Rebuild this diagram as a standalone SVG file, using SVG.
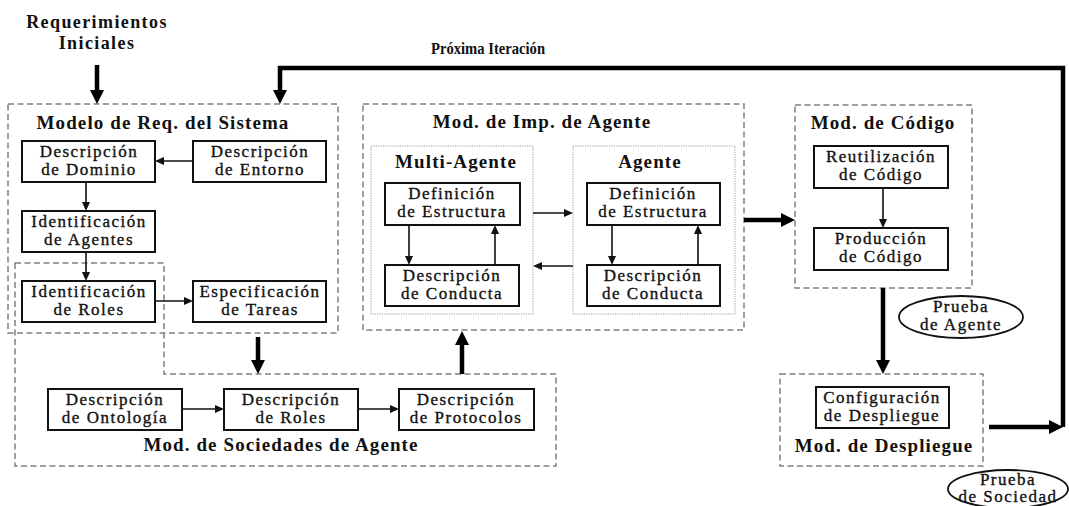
<svg xmlns="http://www.w3.org/2000/svg" width="1069" height="506" viewBox="0 0 1069 506">
  <style>
    .box { fill: #fff; stroke: #111; stroke-width: 2; }
    .group { fill: none; stroke: #808080; stroke-width: 1.5; stroke-dasharray: 6 3.5; }
    .inner { fill: none; stroke: #9a9a9a; stroke-width: 1; stroke-dasharray: 1.2 1.2; }
    .t { font-family: "Liberation Serif", "Times New Roman", serif; font-size: 17px; letter-spacing: 1.5px; text-anchor: middle; fill: #111; stroke: #111; stroke-width: 0.35; }
    .title { font-family: "Liberation Serif", "Times New Roman", serif; font-size: 19px; font-weight: bold; letter-spacing: 1.1px; text-anchor: middle; fill: #111; }
    .head { font-family: "Liberation Serif", "Times New Roman", serif; font-size: 17px; font-weight: bold; text-anchor: middle; fill: #111; }
    .thin { fill: none; stroke: #111; stroke-width: 1.6; marker-end: url(#ah); }
    .thick { fill: none; stroke: #000; stroke-width: 4.5; marker-end: url(#AH); }
    .oval { fill: #fff; stroke: #111; stroke-width: 1.8; }
  </style>
  <defs>
    <marker id="ah" markerUnits="userSpaceOnUse" markerWidth="9" markerHeight="8" refX="4" refY="4" orient="auto">
      <path d="M0,0 L9,4 L0,8 z" fill="#111"/>
    </marker>
    <marker id="AH" markerUnits="userSpaceOnUse" markerWidth="14" markerHeight="14" refX="5" refY="7" orient="auto">
      <path d="M0,0 L14,7 L0,14 z" fill="#000"/>
    </marker>
  </defs>
  <rect width="1069" height="506" fill="#fff"/>

  <!-- free labels -->
  <text class="title" x="97" y="28" style="font-size:18px;letter-spacing:1.4px">Requerimientos</text>
  <text class="title" x="97" y="49" style="font-size:18px;letter-spacing:1.4px">Iniciales</text>
  <text class="head" transform="translate(488,54) scale(0.86,1)">Próxima Iteración</text>

  <!-- model groupings -->
  <g id="modelo-req">
    <rect class="group" x="8" y="104" width="330" height="229"/>
    <text class="title" x="163" y="129">Modelo de Req. del Sistema</text>
  </g>
  <g id="mod-sociedades">
    <path class="group" d="M15,263 H164 V374 H556 V466 H15 Z"/>
    <text class="title" x="281" y="451">Mod. de Sociedades de Agente</text>
  </g>
  <g id="mod-imp">
    <rect class="group" x="363" y="104" width="381" height="226"/>
    <text class="title" x="542" y="128">Mod. de Imp. de Agente</text>
  </g>
  <g id="multi-agente">
    <rect class="inner" x="371" y="146" width="162" height="168"/>
    <text class="title" x="456" y="168">Multi-Agente</text>
  </g>
  <g id="agente">
    <rect class="inner" x="573" y="146" width="162" height="168"/>
    <text class="title" x="650" y="168">Agente</text>
  </g>
  <g id="mod-codigo">
    <rect class="group" x="795" y="105" width="177" height="183"/>
    <text class="title" x="883" y="129">Mod. de Código</text>
  </g>
  <g id="mod-despliegue">
    <rect class="group" x="780" y="374" width="203" height="92"/>
    <text class="title" x="884" y="452">Mod. de Despliegue</text>
  </g>

  <!-- activity boxes -->
  <g id="desc-dominio">
    <rect class="box" x="22" y="141" width="133" height="41"/>
    <text class="t" x="89" y="157">Descripción</text>
    <text class="t" x="89" y="175">de  Dominio</text>
  </g>
  <g id="desc-entorno">
    <rect class="box" x="193" y="141" width="133" height="41"/>
    <text class="t" x="260" y="157">Descripción</text>
    <text class="t" x="260" y="175">de Entorno</text>
  </g>
  <g id="ident-agentes">
    <rect class="box" x="22" y="211" width="133" height="41"/>
    <text class="t" x="89" y="227">Identificación</text>
    <text class="t" x="89" y="245">de Agentes</text>
  </g>
  <g id="ident-roles">
    <rect class="box" x="22" y="281" width="133" height="41"/>
    <text class="t" x="89" y="297">Identificación</text>
    <text class="t" x="89" y="315">de Roles</text>
  </g>
  <g id="espec-tareas">
    <rect class="box" x="193" y="281" width="133" height="41"/>
    <text class="t" x="260" y="297">Especificación</text>
    <text class="t" x="260" y="315">de Tareas</text>
  </g>
  <g id="ma-def-estructura">
    <rect class="box" x="385" y="183" width="135" height="42"/>
    <text class="t" x="452" y="199">Definición</text>
    <text class="t" x="452" y="217">de Estructura</text>
  </g>
  <g id="ma-desc-conducta">
    <rect class="box" x="385" y="265" width="134" height="41"/>
    <text class="t" x="452" y="281">Descripción</text>
    <text class="t" x="452" y="299">de Conducta</text>
  </g>
  <g id="ag-def-estructura">
    <rect class="box" x="587" y="183" width="133" height="42"/>
    <text class="t" x="653" y="199">Definición</text>
    <text class="t" x="653" y="217">de Estructura</text>
  </g>
  <g id="ag-desc-conducta">
    <rect class="box" x="587" y="265" width="133" height="41"/>
    <text class="t" x="653" y="281">Descripción</text>
    <text class="t" x="653" y="299">de Conducta</text>
  </g>
  <g id="reutil-codigo">
    <rect class="box" x="814" y="146" width="134" height="42"/>
    <text class="t" x="881" y="162">Reutilización</text>
    <text class="t" x="881" y="180">de Código</text>
  </g>
  <g id="prod-codigo">
    <rect class="box" x="814" y="228" width="134" height="42"/>
    <text class="t" x="881" y="244">Producción</text>
    <text class="t" x="881" y="262">de Código</text>
  </g>
  <g id="config-despliegue">
    <rect class="box" x="816" y="387" width="133" height="41"/>
    <text class="t" x="882" y="403">Configuración</text>
    <text class="t" x="882" y="421">de Despliegue</text>
  </g>
  <g id="desc-ontologia">
    <rect class="box" x="48" y="389" width="134" height="41"/>
    <text class="t" x="115" y="405">Descripción</text>
    <text class="t" x="115" y="423">de Ontología</text>
  </g>
  <g id="desc-roles">
    <rect class="box" x="224" y="389" width="134" height="41"/>
    <text class="t" x="291" y="405">Descripción</text>
    <text class="t" x="291" y="423">de Roles</text>
  </g>
  <g id="desc-protocolos">
    <rect class="box" x="399" y="389" width="135" height="41"/>
    <text class="t" x="466" y="405">Descripción</text>
    <text class="t" x="466" y="423">de Protocolos</text>
  </g>

  <!-- test checkpoints -->
  <g id="prueba-agente">
    <ellipse class="oval" cx="961" cy="317" rx="62" ry="21"/>
    <text class="t" x="961" y="312">Prueba</text>
    <text class="t" x="961" y="330">de Agente</text>
  </g>
  <g id="prueba-sociedad">
    <ellipse class="oval" cx="1008" cy="489" rx="60" ry="19"/>
    <text class="t" x="1008" y="485">Prueba</text>
    <text class="t" x="1008" y="502">de Sociedad</text>
  </g>

  <!-- connectors -->
  <g id="connectors">
    <line class="thin" x1="193" y1="161" x2="160" y2="161"/>
    <line class="thin" x1="86" y1="182" x2="86" y2="206"/>
    <line class="thin" x1="86" y1="252" x2="86" y2="276"/>
    <line class="thin" x1="155" y1="301" x2="188" y2="301"/>
    <line class="thin" x1="182" y1="409" x2="219" y2="409"/>
    <line class="thin" x1="358" y1="409" x2="394" y2="409"/>
    <line class="thin" x1="409" y1="225" x2="409" y2="260"/>
    <line class="thin" x1="495" y1="265" x2="495" y2="230"/>
    <line class="thin" x1="533" y1="213" x2="568" y2="213"/>
    <line class="thin" x1="573" y1="266" x2="538" y2="266"/>
    <line class="thin" x1="612" y1="225" x2="612" y2="260"/>
    <line class="thin" x1="698" y1="265" x2="698" y2="230"/>
    <line class="thin" x1="883" y1="188" x2="883" y2="223"/>

    <line class="thick" x1="97" y1="65" x2="97" y2="95"/>
    <polyline class="thick" points="1063,427 1063,68 280,68 280,95"/>
    <line class="thick" x1="989" y1="427" x2="1054" y2="427"/>
    <line class="thick" x1="744" y1="220" x2="786" y2="220"/>
    <line class="thick" x1="883" y1="288" x2="883" y2="365"/>
    <line class="thick" x1="258" y1="337" x2="258" y2="365"/>
    <line class="thick" x1="462" y1="374" x2="462" y2="340"/>
  </g>
</svg>
